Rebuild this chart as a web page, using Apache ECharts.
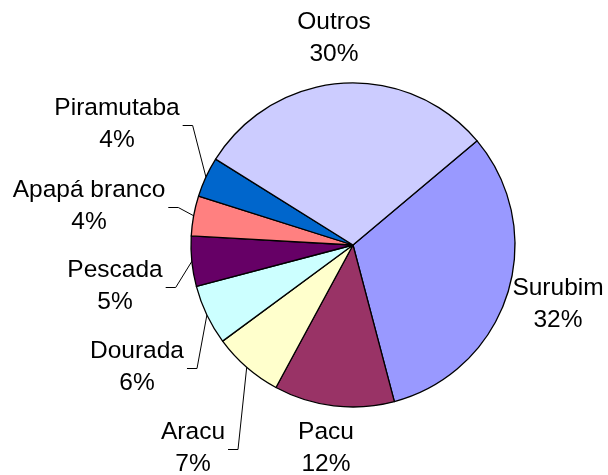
<!DOCTYPE html>
<html>
<head>
<meta charset="utf-8">
<script src="https://cdn.jsdelivr.net/npm/echarts@6/dist/echarts.min.js"></script>
<style>
  html, body { margin: 0; padding: 0; background: #fff; }
  #pie { width: 608px; height: 475px; }
</style>
</head>
<body>
<div id="pie"></div>
<script>
// categories, clockwise from the Outros/Surubim border
var especies = ['Surubim', 'Pacu', 'Aracu', 'Dourada', 'Pescada', 'Apapá branco', 'Piramutaba', 'Outros'];
var percentuais = [32, 12, 7, 6, 5, 4, 4, 30];
var cores = ['#9999FF', '#993366', '#FFFFCC', '#CCFFFF', '#660066', '#FF8080', '#0066CC', '#CCCCFF'];
// label centres (px) and whether a leader line is drawn
var rotulos = [[558, 304], [326, 448], [193, 448], [137, 367], [115, 286], [89, 206], [117, 124], [334, 38]];
var comLinha = [false, false, true, true, true, true, true, false];

var pieChart = echarts.init(document.getElementById('pie'));

var pieOption = {
    animation: false,
    color: cores,
    series: [
        {
            type: 'pie',
            center: [353, 245],
            radius: 162,
            startAngle: 40,
            clockwise: true,
            avoidLabelOverlap: false,
            emphasis: { disabled: true },
            itemStyle: {
                borderColor: '#000',
                borderWidth: 1.3
            },
            label: {
                show: true,
                position: 'outside',
                formatter: '{b}\n{c}%',
                fontFamily: 'Liberation Sans, Arial, sans-serif',
                fontSize: 24.5,
                lineHeight: 32,
                color: '#000'
            },
            labelLine: {
                show: true,
                length: 10,
                length2: 10,
                lineStyle: { color: '#000', width: 1 }
            },
            labelLayout: function (params) {
                var i = params.dataIndex;
                var p = rotulos[i];
                var out = { x: p[0], y: p[1], align: 'center', verticalAlign: 'middle' };
                if (comLinha[i] && params.labelLinePoints) {
                    var borda = params.labelLinePoints[0];
                    var dir = p[0] + params.labelRect.width / 2 + 3;
                    var yl = p[1] + 1.5;
                    out.labelLinePoints = [borda, [dir + 10, yl], [dir, yl]];
                }
                return out;
            },
            data: especies.map(function (nome, i) {
                return {
                    name: nome,
                    value: percentuais[i],
                    labelLine: { show: comLinha[i] }
                };
            })
        }
    ]
};
pieChart.setOption(pieOption);
</script>
</body>
</html>
